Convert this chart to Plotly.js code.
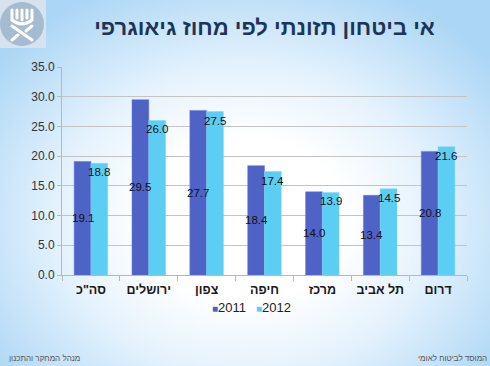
<!DOCTYPE html>
<html>
<head>
<meta charset="utf-8">
<script src="https://cdn.plot.ly/plotly-3.0.1.min.js"></script>
<style>
html,body{margin:0;padding:0;width:490px;height:366px;overflow:hidden;}
body{background: radial-gradient(ellipse 64% 70% at 50% 60%, #ffffff 0%, #ffffff 32%, #e4f2fd 60%, #acd6f5 100%);}
#chart{width:490px;height:366px;}
</style>
</head>
<body>
<div id="chart"></div>
<script>
const categories = ['סה"כ', 'ירושלים', 'צפון', 'חיפה', 'מרכז', 'תל אביב', 'דרום'];
const values2011 = [19.1, 29.5, 27.7, 18.4, 14.0, 13.4, 20.8];
const values2012 = [18.8, 26.0, 27.5, 17.4, 13.9, 14.5, 21.6];
const seriesNames = ['2011', '2012'];
const seriesColors = ['#4f62c6', '#5ccdf3'];
const titleText = 'אי ביטחון תזונתי לפי מחוז גיאוגרפי';

const logoSvg = '<svg xmlns="http://www.w3.org/2000/svg" width="46" height="48" viewBox="0 0 46 48">' +
  '<rect x="0" y="0" width="46" height="48" fill="#d6e3ef"/>' +
  '<circle cx="22" cy="24" r="22" fill="#a7bbd0"/>' +
  '<g fill="none" stroke="#ffffff" stroke-width="3" stroke-linecap="round">' +
  '<path d="M12 10 L12 20 Q22 28 32 20 L32 10"/>' +
  '<path d="M17 10 L17 18 M22 10 L22 20 M27 10 L27 18"/>' +
  '<path d="M12 26 L32 40 M32 26 L26 31 M18 35 L12 40"/>' +
  '</g></svg>';

const fontFam = '"Liberation Sans", Arial, sans-serif';
const labelFont = {family: fontFam, size: 11.5, color: '#111111'};

const trace2011 = {
  type: 'bar', name: seriesNames[0], x: categories, y: values2011,
  marker: {color: seriesColors[0], line: {color: '#6677d0', width: 0.5}}, hoverinfo: 'skip'
};
const trace2012 = {
  type: 'bar', name: seriesNames[1], x: categories, y: values2012,
  marker: {color: seriesColors[1], line: {color: '#7fd8f6', width: 0.5}}, hoverinfo: 'skip'
};

// value labels: 2011 centred in bar, 2012 at inside end
const barHalfShift = 8.4;
const labels = [];
categories.forEach((c, i) => {
  labels.push({x: c, y: values2011[i] / 2, xref: 'x', yref: 'y', text: values2011[i].toFixed(1),
               showarrow: false, xanchor: 'center', yanchor: 'middle', xshift: -barHalfShift, font: labelFont});
  labels.push({x: c, y: values2012[i], xref: 'x', yref: 'y', text: values2012[i].toFixed(1),
               showarrow: false, xanchor: 'center', yanchor: 'top', xshift: barHalfShift, yshift: -1, font: labelFont});
});

// compact legend (small squares close to the text, like the original)
const legendEntries = seriesNames.map((n, i) => ({
  text: '<span style="color:' + seriesColors[i] + ';font-size:10px">■</span>' + n,
  xref: 'paper', yref: 'paper', x: (251 - 62)/405, y: -32/208, xanchor: 'center', yanchor: 'middle',
  xshift: (i - 0.5) * 45, showarrow: false, font: {family: fontFam, size: 13, color: '#222'}
}));

const layout = {
  width: 490, height: 366,
  paper_bgcolor: 'rgba(0,0,0,0)', plot_bgcolor: 'rgba(0,0,0,0)',
  margin: {l: 62, r: 23, t: 67, b: 91},
  barmode: 'group', bargap: 0.42, bargroupgap: 0,
  font: {family: fontFam, color: '#222'},
  title: {text: '<b>' + titleText + '</b>', x: 0.5, xref: 'paper', xanchor: 'center', y: 0.925, yanchor: 'middle',
          font: {family: fontFam, size: 22, color: '#1c3557'}},
  xaxis: {type: 'category', tickson: 'boundaries', ticks: 'outside', ticklen: 5, tickcolor: '#b8b8b8',
          showline: true, linecolor: '#b8b8b8', linewidth: 1, showgrid: false, ticklabelstandoff: 3,
          tickfont: {family: fontFam, size: 12.5, color: '#1a1a1a', weight: 'bold'}},
  yaxis: {range: [0, 35], dtick: 5, tickformat: '.1f', ticks: 'outside', ticklen: 4, tickcolor: '#b8b8b8',
          showline: true, linecolor: '#b8b8b8', gridcolor: '#c4c4c4', gridwidth: 1, zeroline: false,
          tickfont: {family: fontFam, size: 12, color: '#333'}},
  showlegend: false,
  images: [{source: 'data:image/svg+xml;utf8,' + encodeURIComponent(logoSvg), xref: 'paper', yref: 'paper',
            x: -62/405, y: 1 + 67/208, sizex: 46/405, sizey: 48/208, xanchor: 'left', yanchor: 'top', layer: 'above'}],
  annotations: labels.concat(legendEntries, [
    {text: 'מנהל המחקר והתכנון', xref: 'paper', yref: 'paper', x: -55/405, y: -83/208, xanchor: 'left', yanchor: 'middle',
     showarrow: false, font: {family: fontFam, size: 8, color: '#555'}},
    {text: 'המוסד לביטוח לאומי', xref: 'paper', yref: 'paper', x: 1 + 22/405, y: -83/208, xanchor: 'right', yanchor: 'middle',
     showarrow: false, font: {family: fontFam, size: 8, color: '#555'}}
  ])
};

Plotly.newPlot('chart', [trace2011, trace2012], layout, {displayModeBar: false, staticPlot: true});
</script>
</body>
</html>
